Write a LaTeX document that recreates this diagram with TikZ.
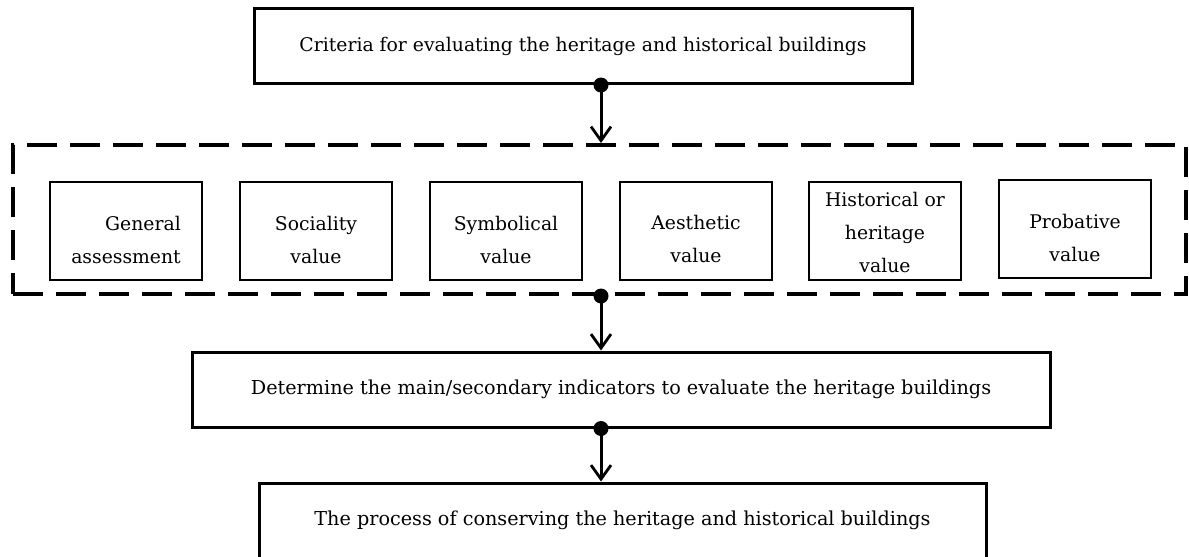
\documentclass[tikz,border=0pt]{standalone}
\usepackage{fontspec}
\setmainfont{DejaVu Serif}
\usetikzlibrary{arrows.meta}
\begin{document}
\begin{tikzpicture}[x=1pt,y=-1pt,
  txt/.style={font=\fontsize{18.8}{33}\selectfont},
  bigtxt/.style={font=\fontsize{19.2}{33}\selectfont},
  bigbox/.style={draw, line width=3pt, inner sep=0pt, txt},
  smallbox/.style={draw, line width=2.5pt, minimum width=152pt, minimum height=98pt, inner sep=0pt},
  grpbox/.style={draw, line width=4pt, dash pattern=on 30pt off 13pt, minimum width=1173pt, minimum height=149pt, inner sep=0pt},
  lab/.style={txt, align=center, inner sep=0pt},
  conn/.style={line width=3pt, -{Straight Barb[length=14pt,width=20pt,line width=2.8pt]}},
  dot/.style={fill=black}
]
\useasboundingbox (0,0) rectangle (1189,557);

\node[bigbox, minimum width=658pt, minimum height=75pt] (top) at (583,46) {Criteria for evaluating the heritage and historical buildings};

\node[grpbox] (grp) at (599.5,219.5) {};

\node[smallbox] (b1) at (126,231) {};
\node[smallbox] (b2) at (316,231) {};
\node[smallbox] (b3) at (506,231) {};
\node[smallbox] (b4) at (696,231) {};
\node[smallbox] (b5) at (885,231) {};
\node[smallbox] (b6) at (1075,229) {};

\node[lab, align=right, anchor=east] (t1) at (181,239.5) {General\\assessment};
\node[lab] (t2) at (316,239.5) {Sociality\\value};
\node[lab] (t3) at (506,239.5) {Symbolical\\value};
\node[lab] (t4) at (696,238.5) {Aesthetic\\value};
\node[lab] (t5) at (885,232) {Historical or\\heritage\\value};
\node[lab] (t6) at (1075,237.5) {Probative\\value};

\node[bigbox, bigtxt, minimum width=858pt, minimum height=75pt] (mid) at (621,389.5) {Determine the main/secondary indicators to evaluate the heritage buildings};

\node[bigbox, bigtxt, minimum width=727pt, minimum height=75pt] (bot) at (622.5,520.5) {The process of conserving the heritage and historical buildings};

\fill[dot] (top.south -| 601,0) circle (7.5pt);
\draw[conn] (top.south -| 601,0) -- (grp.north -| 601,0);
\fill[dot] (grp.south -| 601,0) circle (7.5pt);
\draw[conn] (grp.south -| 601,0) -- (mid.north -| 601,0);
\fill[dot] (mid.south -| 601,0) circle (7.5pt);
\draw[conn] (mid.south -| 601,0) -- (bot.north -| 601,0);
\end{tikzpicture}
\end{document}
